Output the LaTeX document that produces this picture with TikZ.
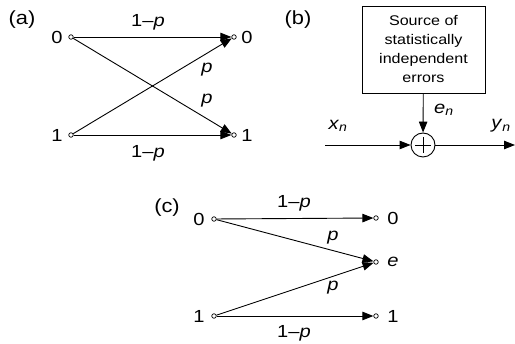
\documentclass[tikz,border=0pt]{standalone}
\usepackage{fontspec}
\setmainfont{Liberation Sans}[FakeStretch=1.15]
\usetikzlibrary{arrows.meta,calc}

\tikzset{
  term/.style={circle,draw,fill=white,inner sep=0pt,minimum size=4.5pt,line width=0.7pt},
  lbl/.style={font=\fontsize{17.5}{20}\selectfont,inner sep=0pt},
  tag/.style={font=\fontsize{19}{22}\selectfont,inner sep=0pt},
  chan/.style={line width=0.9pt,-{Triangle[length=11pt,width=8.5pt]}},
}
\newcommand{\pp}{\textit{p}}
\newcommand{\onep}{1\textendash\textit{p}}

\begin{document}
\begin{tikzpicture}[x=1pt,y=-1pt]
\useasboundingbox (0,0) rectangle (515,344);

% =============================== (a) ==================================
\node[tag] (atag) at (22,20) {(a)};
\node[term] (a0) at (71,37) {};
\node[term] (a1) at (71,135) {};
\node[term] (b0) at (234,37) {};
\node[term] (b1) at (234,135) {};
\node[lbl] (a0l) at (57,37) {0};
\node[lbl] (a1l) at (57,135) {1};
\node[lbl] (b0l) at (247,37) {0};
\node[lbl] (b1l) at (247,135) {1};

\draw[chan] (a0) -- (b0);
\draw[chan] (a1) -- (b1);
\draw[chan] (a0) -- (b1);
\draw[chan] (a1) -- (b0);

\node[lbl] (aq0) at (148,22) {\onep};
\node[lbl] (aq1) at (148,153) {\onep};
\node[lbl] (ap0) at (207,70) {\pp};
\node[lbl] (ap1) at (207,101) {\pp};

% =============================== (b) ==================================
\node[tag] (btag) at (298,20) {(b)};
\node[draw,line width=0.9pt,minimum width=123pt,minimum height=87pt,align=center,
  font=\fontsize{14}{19}\selectfont] (src) at (423.5,49.5)
  {Source of\\statistically\\independent\\errors};
\node[circle,draw,line width=0.9pt,minimum size=24pt,inner sep=0pt] (sum) at (423,145) {};
\draw[line width=0.9pt] ($(sum.center)+(-8,0)$) -- ($(sum.center)+(8,0)$);
\draw[line width=0.9pt] ($(sum.center)+(0,-8)$) -- ($(sum.center)+(0,8)$);
\coordinate (xin) at (325,145);
\coordinate (yout) at (515,145);

\draw[chan] (src) -- (sum);
\draw[chan] (xin) -- (sum);
\draw[chan] (sum) -- (yout);

\node[lbl] (xl) at (338,126) {\textit{x}\textsubscript{\textit{n}}};
\node[lbl] (yl) at (501,126) {\textit{y}\textsubscript{\textit{n}}};
\node[lbl] (el) at (444,110) {\textit{e}\textsubscript{\textit{n}}};

% =============================== (c) ==================================
\node[tag] (ctag) at (167,208) {(c)};
\node[term] (c0) at (214,219) {};
\node[term] (c1) at (214,316) {};
\node[term] (d0) at (376,218) {};
\node[term] (de) at (376,262) {};
\node[term] (d1) at (376,316) {};
\node[lbl] (c0l) at (199,219) {0};
\node[lbl] (c1l) at (199,316) {1};
\node[lbl] (d0l) at (393,218) {0};
\node[lbl] (del) at (393,262) {\textit{e}};
\node[lbl] (d1l) at (393,316) {1};

\draw[chan] (c0) -- (d0);
\draw[chan] (c0) -- (de);
\draw[chan] (c1) -- (de);
\draw[chan] (c1) -- (d1);

\node[lbl] (cq0) at (294,203) {\onep};
\node[lbl] (cq1) at (294,333) {\onep};
\node[lbl] (cp0) at (333,238) {\pp};
\node[lbl] (cp1) at (333,288) {\pp};

\end{tikzpicture}
\end{document}
